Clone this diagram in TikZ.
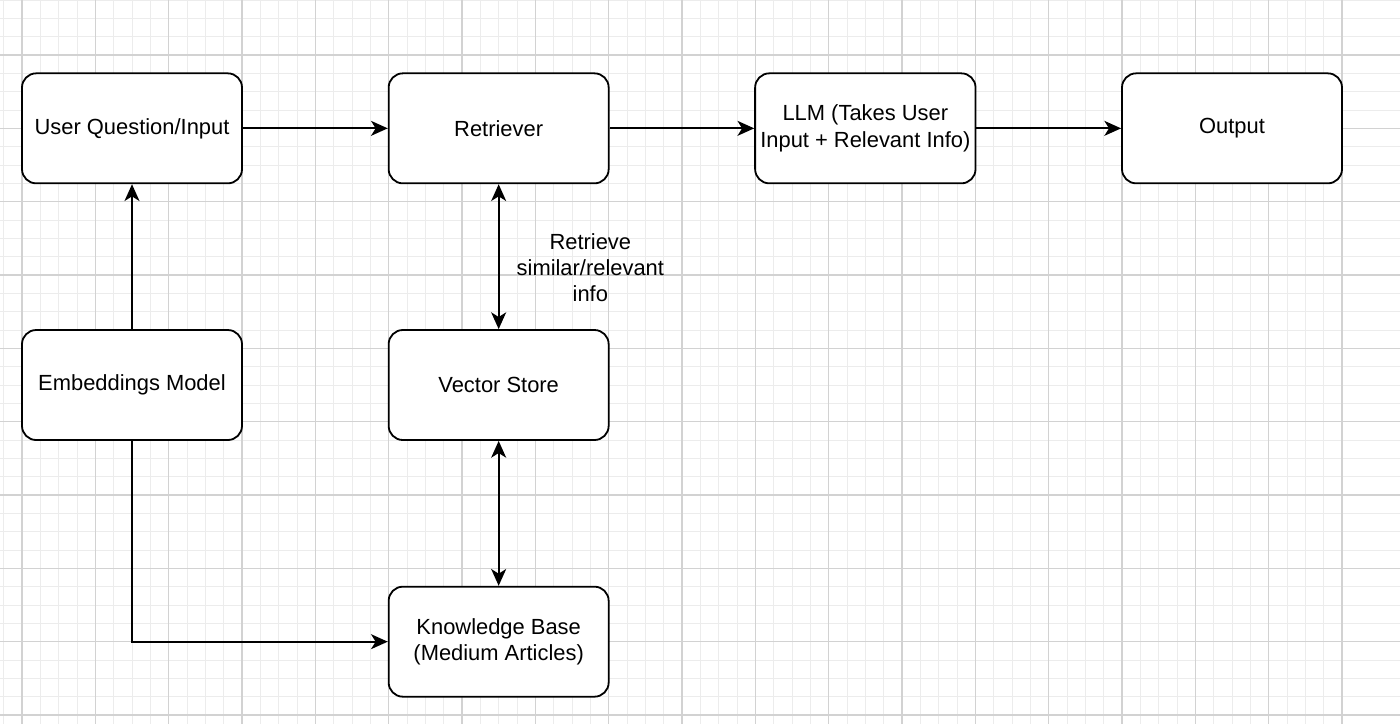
\documentclass[tikz,border=0pt]{standalone}
\usepackage{fontspec}
\setmainfont{Liberation Sans}
\definecolor{gridmajor}{RGB}{210, 210, 210}
\definecolor{gridminor}{RGB}{236, 236, 236}
\definecolor{boxline}{RGB}{0, 0, 0}
\usetikzlibrary{arrows.meta, positioning, calc}

\tikzset{
  flowbox/.style={draw=boxline, line width=0.7pt, fill=white, rounded corners=5.5pt,
    minimum width=3cm, minimum height=1.5cm, align=center, inner sep=2pt,
    font=\fontsize{8.5}{10.1}\selectfont},
  flowarrow/.style={line width=0.7pt, -{Stealth[length=6.5pt, width=5.8pt, inset=1.8pt]}},
  bothway/.style={line width=0.7pt, {Stealth[length=6.5pt, width=5.8pt, inset=1.8pt]}-{Stealth[length=6.5pt, width=5.8pt, inset=1.8pt]}}
}

\begin{document}
\begin{tikzpicture}[x=1cm, y=-1cm]
  \useasboundingbox (0,0) rectangle (19.0909, 9.8727);
  \fill[white] (0,0) rectangle (19.0909, 9.8727);

  % Background grid
  \foreach \i in {-4,...,72} {
    \draw[gridminor, line width=0.35pt] ({0.3+0.25*\i}, 0) -- ({0.3+0.25*\i}, 9.8727);
  }
  \foreach \j in {-3,...,37} {
    \draw[gridminor, line width=0.35pt] (0, {0.75+0.25*\j}) -- (19.0909, {0.75+0.25*\j});
  }
  \foreach \i in {-1,...,18} {
    \draw[gridmajor, line width=0.5pt] ({0.3+\i}, 0) -- ({0.3+\i}, 9.8727);
  }
  \foreach \j in {-1,...,9} {
    \draw[gridmajor, line width=0.5pt] (0, {0.75+\j}) -- (19.0909, {0.75+\j});
  }

  % Top row
  \node[flowbox] (question) at (1.8, 1.75) {User Question/Input};
  \node[flowbox] (retriever) at (6.8, 1.75) {Retriever};
  \node[flowbox] (llm) at (11.8, 1.75) {LLM (Takes User\\Input + Relevant Info)};
  \node[flowbox] (output) at (16.8, 1.75) {Output};

  % Middle and bottom
  \node[flowbox] (embed) at (1.8, 5.25) {Embeddings Model};
  \node[flowbox] (vstore) at (6.8, 5.25) {Vector Store};
  \node[flowbox] (kbase) at (6.8, 8.75) {Knowledge Base\\(Medium Articles)};

  % Connectors
  \draw[flowarrow] (question) -- (retriever);
  \draw[flowarrow] (retriever) -- (llm);
  \draw[flowarrow] (llm) -- (output);
  \draw[flowarrow] (embed) -- (question);
  \draw[flowarrow] (embed.south) |- (kbase.west);
  \draw[bothway] (retriever) -- (vstore);
  \draw[bothway] (vstore) -- (kbase);

  \node[align=center, font=\fontsize{8.5}{10.1}\selectfont] (retlabel) at (8.05, 3.65)
    {Retrieve\\similar/relevant\\info};
\end{tikzpicture}
\end{document}
